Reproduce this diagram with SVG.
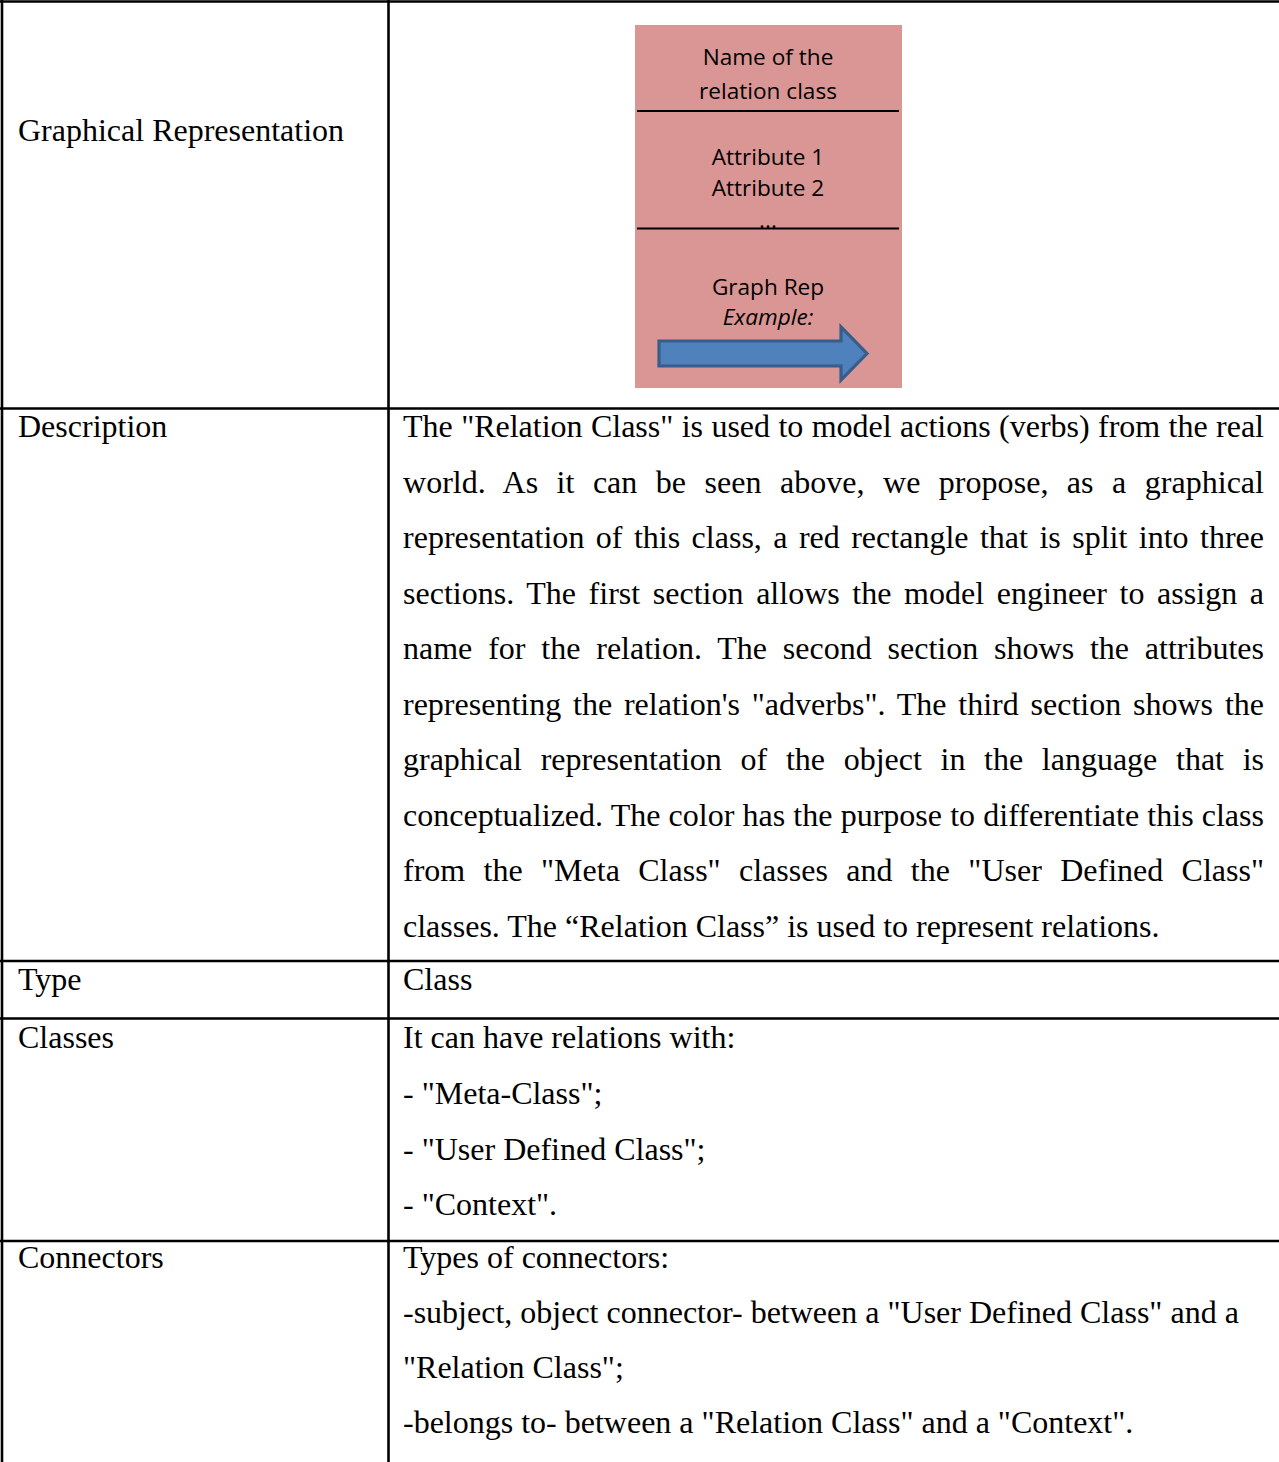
<svg xmlns="http://www.w3.org/2000/svg" width="1279" height="1462" viewBox="0 0 1279 1462">
  <style>
    .grid { stroke: #000; stroke-width: 2.6; fill: none; }
    .cell { font-family: "Liberation Serif", "Times New Roman", serif; font-size: 32px; fill: #000; }
    .box-text { font-family: "Open Sans", "Noto Sans", sans-serif; font-size: 22.6px; fill: #000; text-anchor: middle; }
    .divider { stroke: #000; stroke-width: 2.2; }
  </style>
  <rect width="1279" height="1462" fill="#fff"/>

  <!-- table rules -->
  <g id="table-grid" class="grid">
    <line x1="0" y1="1.5" x2="1279" y2="1.5"/>
    <line x1="2" y1="0" x2="2" y2="1462"/>
    <line x1="388.5" y1="0" x2="388.5" y2="1462"/>
    <line x1="0" y1="408.5" x2="1279" y2="408.5"/>
    <line x1="0" y1="961" x2="1279" y2="961"/>
    <line x1="0" y1="1018.5" x2="1279" y2="1018.5"/>
    <line x1="0" y1="1241" x2="1279" y2="1241"/>
  </g>

  <!-- row labels -->
  <g id="labels" class="cell">
    <text x="18" y="141">Graphical Representation</text>
    <text x="18" y="437">Description</text>
    <text x="18" y="990">Type</text>
    <text x="18" y="1048">Classes</text>
    <text x="18" y="1268">Connectors</text>
  </g>

  <!-- relation class symbol -->
  <g id="relation-class-symbol">
    <rect x="635" y="25" width="267" height="363" fill="#D99694"/>
    <line class="divider" x1="637" y1="111" x2="899" y2="111"/>
    <line class="divider" x1="637" y1="228.5" x2="899" y2="228.5"/>
    <text class="box-text" x="768" y="65">Name of the</text>
    <text class="box-text" x="768" y="99">relation class</text>
    <text class="box-text" x="768" y="165">Attribute 1</text>
    <text class="box-text" x="768" y="196">Attribute 2</text>
    <text class="box-text" x="768" y="228">...</text>
    <text class="box-text" x="768" y="295">Graph Rep</text>
    <text class="box-text" x="768" y="325" font-style="italic">Example:</text>
    <polygon points="659,341 841,341 841,327 867,353.5 841,380 841,366 659,366" fill="#4F81BD" stroke="#385D8A" stroke-width="3.2" stroke-linejoin="miter"/>
  </g>

  <!-- description paragraph -->
  <g id="description" class="cell">
    <text x="403" y="437" word-spacing="0.4" textLength="861" lengthAdjust="spacing">The "Relation Class" is used to model actions (verbs) from the real</text>
    <text x="403" y="492.5" word-spacing="10.4" textLength="861" lengthAdjust="spacing">world. As it can be seen above, we propose, as a graphical</text>
    <text x="403" y="548" word-spacing="3.4" textLength="861" lengthAdjust="spacing">representation of this class, a red rectangle that is split into three</text>
    <text x="403" y="603.5" word-spacing="4.6" textLength="861" lengthAdjust="spacing">sections. The first section allows the model engineer to assign a</text>
    <text x="403" y="659" word-spacing="7.8" textLength="861" lengthAdjust="spacing">name for the relation. The second section shows the attributes</text>
    <text x="403" y="714.5" word-spacing="3.8" textLength="861" lengthAdjust="spacing">representing the relation's "adverbs". The third section shows the</text>
    <text x="403" y="770" word-spacing="10.7" textLength="861" lengthAdjust="spacing">graphical representation of the object in the language that is</text>
    <text x="403" y="825.5" word-spacing="0.1" textLength="861" lengthAdjust="spacing">conceptualized. The color has the purpose to differentiate this class</text>
    <text x="403" y="881" word-spacing="10.4" textLength="861" lengthAdjust="spacing">from the "Meta Class" classes and the "User Defined Class"</text>
    <text x="403" y="936.5">classes. The “Relation Class” is used to represent relations.</text>
  </g>

  <!-- type -->
  <g id="type" class="cell">
    <text x="403" y="990">Class</text>
  </g>

  <!-- related classes -->
  <g id="classes" class="cell">
    <text x="403" y="1048">It can have relations with:</text>
    <text x="403" y="1104">- "Meta-Class";</text>
    <text x="403" y="1159.5">- "User Defined Class";</text>
    <text x="403" y="1215">- "Context".</text>
  </g>

  <!-- connector types -->
  <g id="connectors" class="cell">
    <text x="403" y="1268">Types of connectors:</text>
    <text x="403" y="1323">-subject, object connector- between a "User Defined Class" and a</text>
    <text x="403" y="1378">"Relation Class";</text>
    <text x="403" y="1433">-belongs to- between a "Relation Class" and a "Context".</text>
  </g>
</svg>
